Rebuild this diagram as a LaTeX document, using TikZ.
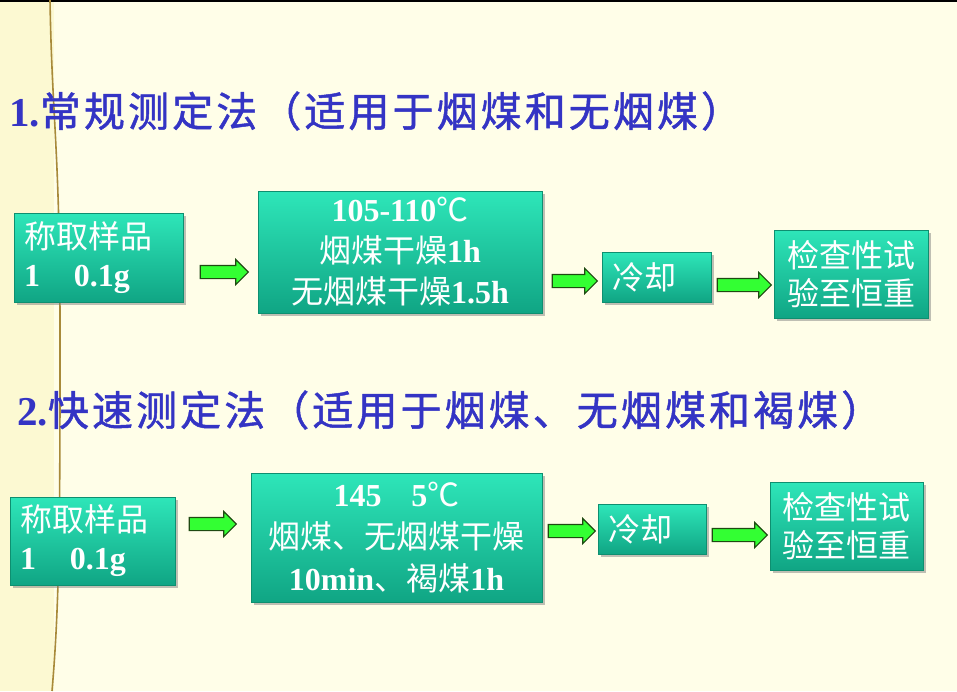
\documentclass[tikz,border=0pt]{standalone}
\usepackage{fontspec}
\setmainfont{Liberation Serif}
\newfontfamily\cjk{Noto Sans CJK SC}
\newfontfamily\cjktitle[LetterSpace=7.5, FakeBold=1.2]{Noto Sans CJK SC}
\usetikzlibrary{shapes.arrows, shadows}

\definecolor{bgcream}{HTML}{FFFEE8}
\definecolor{stripcream}{HTML}{FCF9D2}
\definecolor{titleblue}{HTML}{3434C4}
\definecolor{boxtop}{HTML}{2EE6B9}
\definecolor{boxbot}{HTML}{10A584}
\definecolor{boxedge}{HTML}{0E8F70}
\definecolor{arrowgreen}{HTML}{33FF33}
\definecolor{arrowedge}{HTML}{1F4A12}
\definecolor{seamline}{HTML}{A88A3A}

\tikzset{
  titletext/.style={anchor=west, inner sep=0pt, text=titleblue, font=\fontsize{41}{44}\selectfont},
  stepbox/.style={rectangle, top color=boxtop, bottom color=boxbot, draw=boxedge, line width=0.6pt,
    text=white, inner xsep=10pt, inner ysep=0pt, font=\fontsize{32}{38}\selectfont,
    drop shadow={shadow xshift=3pt, shadow yshift=-3pt, opacity=0.45, fill=black!55}},
  greenarrow/.style={single arrow, fill=arrowgreen, draw=arrowedge, line width=1.1pt,
    single arrow head extend=6pt, inner xsep=0pt, inner ysep=6pt, minimum width=0pt}
}

\begin{document}
\begin{tikzpicture}[x=1pt, y=-1pt]
    \useasboundingbox (0,0) rectangle (957,691);

    % Draw the background
    \fill[bgcream] (0,0) rectangle (957,691);
    \fill[stripcream] (0,0) rectangle (54,691);
    \fill[black] (0,0) rectangle (957,2);
    \draw[seamline, line width=1.6pt] (50,0) .. controls (52,120) and (60,150) .. (60,330)
        .. controls (60,500) and (60,600) .. (52,691);

    % Titles
    \node[titletext] (title1) at (9,111) {\textbf{1.}{\cjktitle 常规测定法（适用于烟煤和无烟煤）}};
    \node[titletext] (title2) at (17,410) {\textbf{2.}{\cjktitle 快速测定法（适用于烟煤、无烟煤和褐煤）}};

    % First row of steps
    \node[stepbox, minimum width=169pt, minimum height=89pt, text width=149pt, align=left] (weigh1) at (98.5,257.5)
        {{\cjk 称取样品}\\\textbf{1\hspace{34pt}0.1g}};
    \node[stepbox, minimum width=284pt, minimum height=122pt, text width=264pt, align=center,
        font=\fontsize{32}{41}\selectfont] (dry1) at (400,252)
        {\textbf{105-110}{\cjk ℃}\\{\cjk 烟煤干燥}\textbf{1h}\\{\cjk 无烟煤干燥}\textbf{1.5h}};
    \node[stepbox, minimum width=109pt, minimum height=50pt, text width=89pt, align=left] (cool1) at (656.5,277) {\cjk 冷却};
    \node[stepbox, minimum width=154pt, minimum height=88pt, text width=134pt, align=center] (check1) at (851,274)
        {\cjk 检查性试\\验至恒重};

    \node[greenarrow, minimum height=48pt] (arr11) at (221,272) {};
    \node[greenarrow, minimum height=45pt] (arr12) at (571.5,281) {};
    \node[greenarrow, minimum height=54pt] (arr13) at (741,285) {};

    % Second row of steps
    \node[stepbox, minimum width=165pt, minimum height=88pt, text width=145pt, align=left] (weigh2) at (92.5,541)
        {{\cjk 称取样品}\\\textbf{1\hspace{34pt}0.1g}};
    \node[stepbox, minimum width=291pt, minimum height=129pt, text width=271pt, align=center,
        font=\fontsize{32}{42}\selectfont] (dry2) at (396.5,537.5)
        {\textbf{145\hspace{30pt}5}{\cjk ℃}\\{\cjk 烟煤、无烟煤干燥}\\\textbf{10min}{\cjk 、褐煤}\textbf{1h}};
    \node[stepbox, minimum width=108pt, minimum height=50pt, text width=88pt, align=left] (cool2) at (652,529) {\cjk 冷却};
    \node[stepbox, minimum width=153pt, minimum height=88pt, text width=133pt, align=center] (check2) at (846.5,526)
        {\cjk 检查性试\\验至恒重};

    \node[greenarrow, minimum height=47pt] (arr21) at (209.5,524) {};
    \node[greenarrow, minimum height=47pt] (arr22) at (568.5,531) {};
    \node[greenarrow, minimum height=55pt] (arr23) at (736.5,535) {};

\end{tikzpicture}
\end{document}
